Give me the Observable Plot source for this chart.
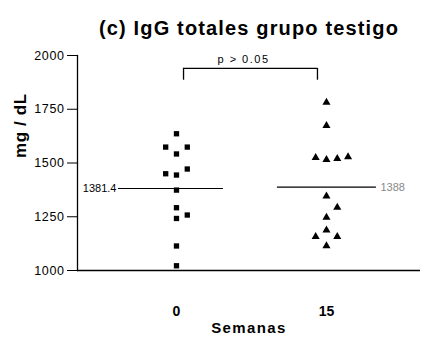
<!DOCTYPE html>
<html>
<head>
<meta charset="utf-8">
<script src="https://cdn.jsdelivr.net/npm/d3@7"></script>
<script src="https://cdn.jsdelivr.net/npm/@observablehq/plot@0.6"></script>
<style>
  html, body { margin: 0; padding: 0; background: #fff; }
  #chart { width: 424px; height: 348px; }
</style>
</head>
<body>
<div id="chart"></div>
<script>
// ---- data ----
const titleText = "(c) IgG totales grupo testigo";
const yLabel = "mg / dL";
const xLabel = "Semanas";
const weeks = ["0", "15"];
const yTicks = [1000, 1250, 1500, 1750, 2000];

// week 0 (squares): values and horizontal column within the group
const week0Values = [1636, 1574, 1574, 1542, 1472, 1450, 1444, 1374, 1292, 1258, 1242, 1114, 1022];
const week0Cols   = [0, -1, 1, 0, 1, -1, 0, 0, 0, 1, 0, 0, 0];
// week 15 (triangles)
const week15Values = [1782, 1674, 1525, 1515, 1520, 1528, 1346, 1293, 1247, 1188, 1157, 1157, 1114];
const week15Cols   = [0, 0, -1, 0, 1, 2, 0, 1, 0, 0, -1, 1, 0];

const means = [1381.4, 1388];
const meanLabels = ["1381.4", "1388"];

const pLabel = "p > 0.05";
const bracketTop = 1940;
const bracketBottom = 1885;

// ---- build tables ----
const colStep = 0.072;
const points = [
  ...week0Values.map((v, i) => ({g: 0, x: 0 + week0Cols[i] * colStep, v, sym: "square"})),
  ...week15Values.map((v, i) => ({g: 1, x: 1 + week15Cols[i] * colStep, v, sym: "triangle"}))
];
const meanRows = means.map((m, i) => ({g: i, m, label: meanLabels[i]}));
const leftExt = [0.387, 0.327];
const rightExt = [0.313, 0.333];

const font = "'Liberation Sans', Arial, Helvetica, sans-serif";

const chart = Plot.plot({
  width: 424,
  height: 348,
  marginTop: 55,
  marginBottom: 78,
  marginLeft: 77,
  marginRight: 4,
  style: {fontFamily: font, fontSize: "12px", color: "#000", background: "#fff"},
  x: {type: "linear", domain: [-0.66, 1.627], axis: null},
  y: {domain: [1000, 2000], axis: null},
  marks: [
    // y axis
    Plot.axisY({ticks: yTicks, tickFormat: d => String(d), tickSize: 10, tickPadding: 3, fontSize: 12.5, label: null}),
    Plot.frame({anchor: "left", stroke: "#000", strokeWidth: 1.3}),
    Plot.ruleY([1000], {stroke: "#000", strokeWidth: 1.3}),
    // y label
    Plot.text([yLabel], {frameAnchor: "left", dx: -57, dy: -5, rotate: -90, fontSize: 17, fontWeight: "bold"}),
    // x category labels
    Plot.text(weeks, {x: (d, i) => i, frameAnchor: "bottom", dy: 45, fontSize: 14, fontWeight: "bold"}),
    Plot.text([xLabel], {frameAnchor: "bottom", dy: 62, fontSize: 15, fontWeight: "bold"}),
    // title
    Plot.text([titleText], {frameAnchor: "top", dy: -35, fontSize: 20, fontWeight: "bold"}),
    // mean lines
    Plot.ruleY(meanRows, {y: "m", x1: d => d.g - leftExt[d.g], x2: d => d.g + rightExt[d.g], stroke: "#000", strokeWidth: 1.2}),
    Plot.text(meanRows.filter(d => d.g === 0), {y: "m", x: d => d.g - leftExt[d.g], dx: -2, textAnchor: "end", fontSize: 11, text: "label"}),
    Plot.text(meanRows.filter(d => d.g === 1), {y: "m", x: d => d.g + rightExt[d.g], dx: 4, textAnchor: "start", fontSize: 11, fill: "#888", text: "label"}),
    // points
    Plot.dot(points, {x: "x", y: "v", symbol: "sym", r: 3, fill: "#000", stroke: "none"}),
    // significance bracket
    Plot.ruleY([bracketTop], {x1: 0.047, x2: 0.94, stroke: "#000", strokeWidth: 1.3}),
    Plot.ruleX([0.047, 0.94], {y1: bracketBottom, y2: bracketTop, stroke: "#000", strokeWidth: 1.3}),
    Plot.text([pLabel], {x: (0.047 + 0.94) / 2, y: bracketTop, dy: -9, dx: -7, fontSize: 11})
  ]
});
document.getElementById("chart").appendChild(chart);

// letter spacing tweaks, matched by text content
const spacing = new Map([[titleText, "1.15px"], [xLabel, "1.4px"], [pLabel, "1.5px"], [yLabel, "0.6px"]]);
yTicks.forEach(t => spacing.set(String(t), "0.6px"));
chart.querySelectorAll("text").forEach(t => {
  const s = spacing.get(t.textContent);
  if (s) t.setAttribute("letter-spacing", s);
});
</script>
</body>
</html>
